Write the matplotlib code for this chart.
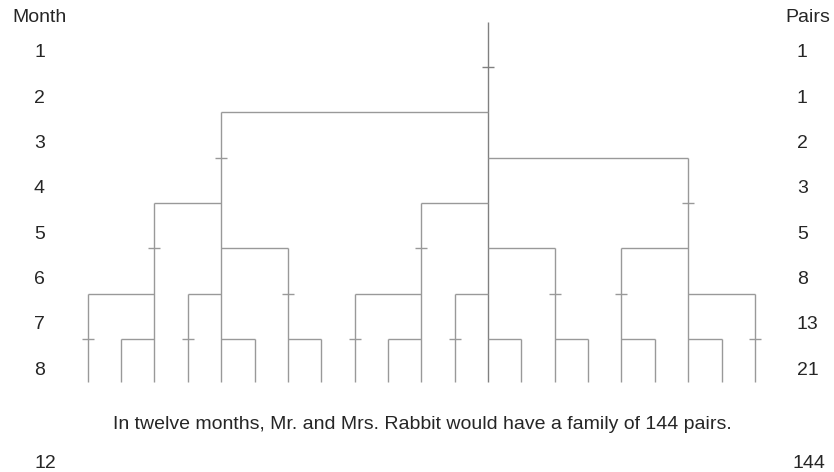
import matplotlib
matplotlib.use("Agg")
import matplotlib.pyplot as plt
from matplotlib.transforms import blended_transform_factory

plt.rcParams['font.family'] = ['Liberation Sans', 'DejaVu Sans']

# month / pairs table
months = [1, 2, 3, 4, 5, 6, 7, 8]
pairs = [1, 1, 2, 3, 5, 8, 13, 21]
final_month = 12
final_pairs = 144

# rabbit pairs: column in the tree, month of birth, parent pair (-1 = first pair)
pair_cols = [12, 4, 18, 10, 14, 11, 13, 2, 6, 3, 5, 16, 20, 19, 8, 9, 15, 0, 1, 7, 17]
pair_born = [1, 3, 4, 5, 6, 7, 8, 5, 6, 7, 8, 6, 7, 8, 7, 8, 8, 7, 8, 8, 8]
pair_parent = [-1, 0, 0, 0, 0, 0, 0, 1, 1, 1, 1, 2, 2, 2, 3, 3, 4, 7, 7, 8, 11]

W, H = 834, 472
fig = plt.figure(figsize=(W / 100, H / 100), dpi=100)
ax = fig.add_axes([0, 0, 1, 1])
ax.set_axis_off()

# column 0 at x=87.7px, 33.36px per column; month y -> px = -0.95 + 45.3*y
ax.set_xlim(-87.7 / 33.36, (W - 87.7) / 33.36)
ax.set_ylim((H + 0.95) / 45.3, 0.95 / 45.3)

line_col = '#999999'
bottom = months[-1] + 0.45

for i in range(len(pair_cols)):
    c = pair_cols[i]
    b = pair_born[i]
    col = '#808080' if pair_parent[i] < 0 else line_col
    ax.vlines(c, b - 0.5, bottom, color=col, lw=1.0)
    if pair_parent[i] >= 0:
        pc = pair_cols[pair_parent[i]]
        ax.hlines(b - 0.5, min(c, pc), max(c, pc), color=line_col, lw=1.0)
    # grown up one month after birth
    if b + 1 <= months[-1]:
        ax.plot(c, b + 0.5, marker='_', ms=8, mew=1.0, color=col)

tr = blended_transform_factory(ax.transAxes, ax.transData)
txt = '#262626'
fs = 14

ax.text(12 / W, 0.496, 'Month', transform=tr, ha='left', va='baseline', fontsize=fs, color=txt)
ax.text(785 / W, 0.496, 'Pairs', transform=tr, ha='left', va='baseline', fontsize=fs, color=txt)
for m, p in zip(months, pairs):
    ax.text(34 / W, m + 0.29, str(m), transform=tr, ha='left', va='baseline', fontsize=fs, color=txt)
    ax.text(797 / W, m + 0.29, str(p), transform=tr, ha='left', va='baseline', fontsize=fs, color=txt)

ax.text(422 / W, 9.49,
        f'In twelve months, Mr. and Mrs. Rabbit would have a family of {final_pairs} pairs.',
        transform=tr, ha='center', va='baseline', fontsize=fs, color=txt)
ax.text(34 / W, 10.35, str(final_month), transform=tr, ha='left', va='baseline', fontsize=fs, color=txt)
ax.text(793 / W, 10.35, str(final_pairs), transform=tr, ha='left', va='baseline', fontsize=fs, color=txt)

fig.savefig('out.png', dpi=100, facecolor='white')
